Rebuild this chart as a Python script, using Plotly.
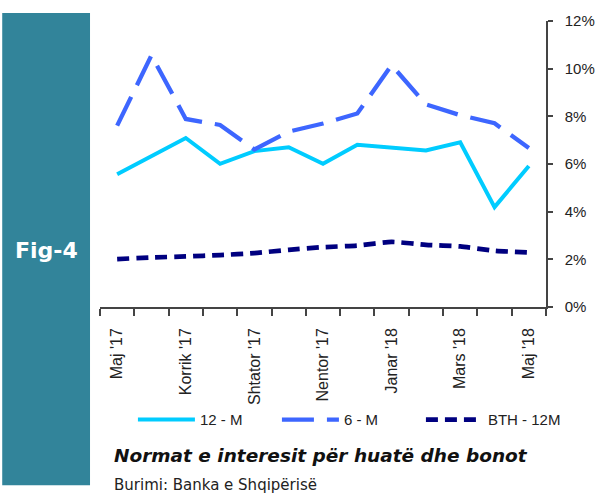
import plotly.graph_objects as go

months = ["Maj '17", "Qershor '17", "Korrik '17", "Gusht '17", "Shtator '17", "Tetor '17",
          "Nentor '17", "Dhjetor '17", "Janar '18", "Shkurt '18", "Mars '18", "Prill '18", "Maj '18"]
tick_labels = ["Maj '17", "Korrik '17", "Shtator '17", "Nentor '17", "Janar '18", "Mars '18", "Maj '18"]
tick_index = [0, 2, 4, 6, 8, 10, 12]

m12 = [5.57, 6.33, 7.09, 6.01, 6.54, 6.70, 6.01, 6.81, 6.67, 6.57, 6.91, 4.19, 5.92]
m6 = [7.61, 10.56, 7.89, 7.64, 6.61, 7.36, 7.70, 8.12, 10.15, 8.50, 8.05, 7.71, 6.67]
bth12 = [2.01, 2.08, 2.12, 2.18, 2.26, 2.40, 2.51, 2.58, 2.73, 2.61, 2.54, 2.36, 2.29]

x = list(range(len(months)))

fig = go.Figure()
fig.add_trace(go.Scatter(x=x, y=m12, name="12 - M", mode="lines",
                         line=dict(color="#00CCFF", width=4)))
fig.add_trace(go.Scatter(x=x, y=m6, name="6 - M", mode="lines",
                         line=dict(color="#3D66FF", width=4.3, dash="32px,13px")))
fig.add_trace(go.Scatter(x=x, y=bth12, name="BTH - 12M", mode="lines",
                         line=dict(color="#000080", width=4.7, dash="12px,7px",
                                   shape="spline", smoothing=0.6)))

W, H = 607, 494
L, R, T, B = 100, 60, 18, 187
pw, ph = W - L - R, H - T - B

def px(xp):
    return (xp - L) / pw

def py(yp):
    return (H - B - yp) / ph

fig.add_shape(type="rect", xref="paper", yref="paper",
              x0=px(2), x1=px(90), y0=py(487), y1=py(10),
              fillcolor="#32849A", line=dict(width=0), layer="below")

fig.add_annotation(xref="paper", yref="paper", x=px(46), y=py(250),
                   text="<b>Fig-4</b>", showarrow=False, xanchor="center", yanchor="middle",
                   font=dict(family="DejaVu Sans", size=22, color="white"))

fig.add_annotation(xref="paper", yref="paper", x=px(112), y=py(457),
                   text="<b><i>Normat e interesit për huatë dhe bonot</i></b>",
                   showarrow=False, xanchor="left", yanchor="middle",
                   font=dict(family="DejaVu Sans", size=18.5, color="#111111"))

fig.add_annotation(xref="paper", yref="paper", x=px(112), y=py(487),
                   text="Burimi: Banka e Shqipërisë",
                   showarrow=False, xanchor="left", yanchor="middle",
                   font=dict(family="DejaVu Sans", size=15, color="#222222"))

fig.update_layout(
    width=W, height=H,
    margin=dict(l=L, r=R, t=T, b=B),
    plot_bgcolor="white", paper_bgcolor="white",
    font=dict(family="Liberation Sans", color="#222222"),
    showlegend=True,
    legend=dict(orientation="h", x=px(133), y=py(421), xanchor="left", yanchor="middle",
                font=dict(size=15, color="#222222"), itemwidth=57,
                entrywidth=72, entrywidthmode="pixels",
                bgcolor="rgba(0,0,0,0)"),
    xaxis=dict(range=[-0.5, 12.5], tickmode="array", tickvals=tick_index, ticktext=tick_labels,
               tickangle=-90, ticks="", showgrid=False, zeroline=False,
               showline=True, linecolor="#444444", linewidth=1.5,
               ticklabelstandoff=13,
               tickfont=dict(size=16, color="#222222"),
               minor=dict(tickmode="linear", tick0=-0.5, dtick=1, ticks="outside",
                          ticklen=7, tickcolor="#444444", tickwidth=1.5, showgrid=False)),
    yaxis=dict(range=[0, 12], dtick=2, side="right", ticksuffix="%",
               showgrid=False, zeroline=False, showline=True, linecolor="#444444",
               linewidth=1.5, ticks="outside", ticklen=5, tickcolor="#444444", tickwidth=1.5,
               ticklabelstandoff=9, tickfont=dict(size=15, color="#222222")),
)

fig.write_html("out.html", config={"displayModeBar": False},
               post_script="document.body.style.margin='0';")
